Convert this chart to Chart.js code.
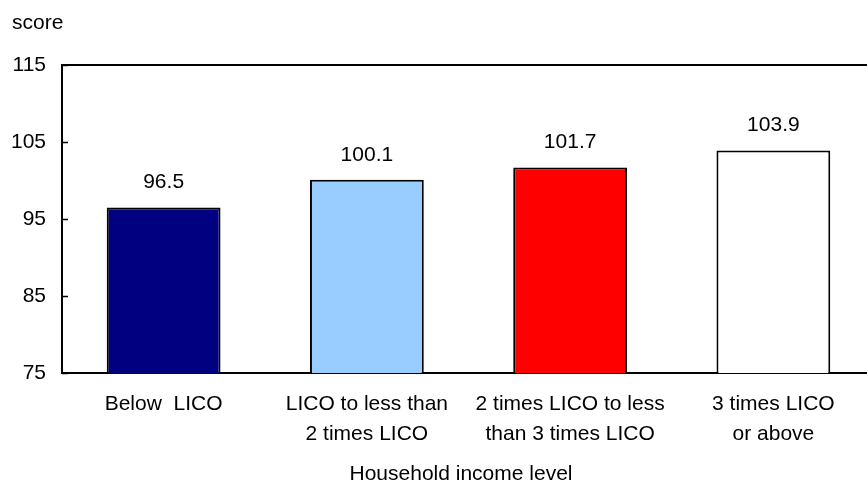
<!DOCTYPE html>
<html>
<head>
<meta charset="utf-8">
<script src="https://cdn.jsdelivr.net/npm/chart.js@4/dist/chart.umd.min.js"></script>
<style>
  html, body { margin: 0; padding: 0; background: #fff; overflow: hidden; }
  #wrap { width: 880px; height: 485px; }
</style>
</head>
<body>
<div id="wrap"><canvas id="c" width="880" height="485"></canvas></div>
<script>
// Household income level categories (multi-line labels)
const categories = [
  ['Below  LICO'],
  ['LICO to less than', '2 times LICO'],
  ['2 times LICO to less', 'than 3 times LICO'],
  ['3 times LICO', 'or above']
];
const scores = [96.5, 100.1, 101.7, 103.9];
const barColors = ['#000080', '#99CCFF', '#FF0000', '#FFFFFF'];
const yTicks = [75, 85, 95, 105, 115];
const yUnit = 'score';
const xTitle = 'Household income level';

const FONT = '"Liberation Sans", Arial, sans-serif';
const FS = 21;

// Value labels above the bars, unit label, axis title and inward tick marks
const extras = {
  id: 'extras',
  afterDatasetsDraw(chart) {
    const ctx = chart.ctx;
    const meta = chart.getDatasetMeta(0);
    ctx.save();
    ctx.fillStyle = '#000';
    ctx.font = FS + 'px ' + FONT;
    ctx.textAlign = 'center';
    ctx.textBaseline = 'alphabetic';
    meta.data.forEach((bar, i) => {
      ctx.fillText(scores[i].toFixed(1), bar.x, bar.y - 19);
    });
    // y-axis unit
    ctx.textAlign = 'left';
    ctx.fillText(yUnit, 12, 29);
    // x-axis title
    ctx.textAlign = 'center';
    ctx.fillText(xTitle, 461, 480);
    // inward tick marks on the value axis
    const ys = chart.scales.y;
    const left = chart.chartArea.left;
    ctx.strokeStyle = '#000';
    ctx.lineWidth = 1.5;
    yTicks.forEach(v => {
      const py = Math.round(ys.getPixelForValue(v)) + 0.5;
      ctx.beginPath();
      ctx.moveTo(left, py);
      ctx.lineTo(left + 6, py);
      ctx.stroke();
    });
    ctx.restore();
  }
};

new Chart(document.getElementById('c'), {
  type: 'bar',
  data: {
    labels: categories,
    datasets: [{
      data: scores,
      backgroundColor: barColors,
      borderColor: '#000',
      borderWidth: 2,
      barPercentage: 0.56,
      categoryPercentage: 1.0
    }]
  },
  options: {
    responsive: false,
    animation: false,
    layout: { padding: { top: 65, right: 5, bottom: 0, left: 0 } },
    plugins: {
      legend: { display: false },
      tooltip: { enabled: false }
    },
    scales: {
      x: {
        grid: { display: false, drawTicks: false },
        border: { display: true, color: '#000', width: 2 },
        ticks: {
          color: '#000',
          font: { family: FONT, size: FS, lineHeight: 1.4 },
          padding: 17,
          maxRotation: 0,
          autoSkip: false
        },
        afterFit(scale) { scale.height = 112; }
      },
      y: {
        min: 75,
        max: 115,
        afterBuildTicks(scale) { scale.ticks = yTicks.map(v => ({ value: v })); },
        grid: {
          drawTicks: false,
          color: ctx => (ctx.tick && ctx.tick.value === 115) ? '#000' : 'rgba(0,0,0,0)',
          lineWidth: 2
        },
        border: { display: true, color: '#000', width: 2 },
        ticks: {
          color: '#000',
          font: { family: FONT, size: FS },
          padding: 16
        },
        afterFit(scale) { scale.width = 62; }
      }
    }
  },
  plugins: [extras]
});
</script>
</body>
</html>
